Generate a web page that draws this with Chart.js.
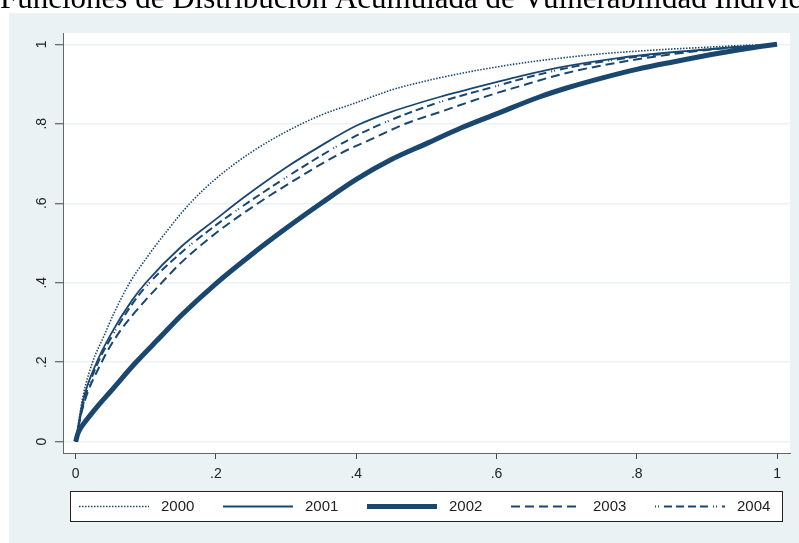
<!DOCTYPE html>
<html>
<head>
<meta charset="utf-8">
<script src="https://cdn.jsdelivr.net/npm/chart.js@4.4.1/dist/chart.umd.min.js"></script>
<style>
  body { margin: 0; background: #fff; }
  canvas { display: block; }
</style>
</head>
<body>
<canvas id="myChart" width="799" height="543"></canvas>
<script>
// data
const years = ['2000', '2001', '2002', '2003', '2004'];
const tickVals = [0, 0.2, 0.4, 0.6, 0.8, 1];

const x2000 = [0, 0.01, 0.024, 0.04, 0.055, 0.077, 0.1, 0.13, 0.163, 0.2, 0.25, 0.3, 0.35, 0.4, 0.45, 0.5, 0.55, 0.6, 0.662, 0.75, 0.82, 0.893, 0.95, 1];
const y2000 = [0, 0.11, 0.2, 0.265, 0.325, 0.4, 0.46, 0.53, 0.6, 0.662, 0.728, 0.78, 0.822, 0.853, 0.885, 0.908, 0.927, 0.943, 0.959, 0.976, 0.985, 0.992, 0.997, 1];

const x2001 = [0, 0.01, 0.03, 0.05, 0.08, 0.1, 0.15, 0.2, 0.24, 0.3, 0.35, 0.4, 0.45, 0.52, 0.6, 0.634, 0.7, 0.776, 0.85, 0.919, 1];
const y2001 = [0, 0.1, 0.2, 0.27, 0.355, 0.4, 0.49, 0.56, 0.615, 0.69, 0.745, 0.795, 0.83, 0.868, 0.905, 0.92, 0.945, 0.966, 0.98, 0.99, 1];

const x2002 = [0, 0.003, 0.01, 0.02, 0.035, 0.05, 0.085, 0.12, 0.15, 0.2, 0.25, 0.3, 0.35, 0.4, 0.45, 0.5, 0.55, 0.6, 0.662, 0.7, 0.75, 0.8, 0.85, 0.919, 0.96, 1];
const y2002 = [0, 0.02, 0.042, 0.065, 0.097, 0.127, 0.198, 0.262, 0.317, 0.398, 0.47, 0.537, 0.6, 0.66, 0.71, 0.75, 0.79, 0.825, 0.868, 0.89, 0.915, 0.937, 0.955, 0.978, 0.99, 1];

const x2003 = [0, 0.01, 0.037, 0.06, 0.099, 0.12, 0.15, 0.2, 0.26, 0.3, 0.377, 0.42, 0.47, 0.52, 0.58, 0.634, 0.7, 0.776, 0.85, 0.919, 1];
const y2003 = [0, 0.085, 0.2, 0.27, 0.355, 0.395, 0.45, 0.525, 0.6, 0.645, 0.725, 0.76, 0.8, 0.83, 0.866, 0.895, 0.928, 0.955, 0.975, 0.989, 1];

const x2004 = [0, 0.01, 0.032, 0.05, 0.08, 0.1, 0.15, 0.2, 0.24, 0.3, 0.35, 0.4, 0.45, 0.52, 0.6, 0.634, 0.7, 0.776, 0.85, 0.919, 1];
const y2004 = [0, 0.09, 0.2, 0.26, 0.345, 0.39, 0.475, 0.545, 0.595, 0.665, 0.72, 0.77, 0.81, 0.855, 0.895, 0.912, 0.94, 0.963, 0.978, 0.99, 1];

const navy = '#1a476f';
const bgBlue = '#eaf2f3';
const titleText = 'Funciones de Distribución Acumulada de Vulnerabilidad Individual';

function pts(xs, ys) {
    return xs.map((x, i) => ({x: x, y: ys[i]}));
}

function fmtTick(v) {
    if (v === 0) return '0';
    if (v === 1) return '1';
    return v.toFixed(1).replace(/^0/, '');
}

// background, title and the plot region
const background = {
    id: 'background',
    beforeDraw(chart) {
        const c = chart.ctx;
        const a = chart.chartArea;
        c.save();
        c.fillStyle = '#ffffff';
        c.fillRect(0, 0, chart.width, chart.height);
        c.fillStyle = bgBlue;
        c.fillRect(9, 13, chart.width - 9, chart.height - 13);
        c.fillStyle = '#ffffff';
        c.fillRect(a.left, a.top, a.right - a.left, a.bottom - a.top);
        c.fillStyle = '#000';
        c.font = '31px "Liberation Serif", "Times New Roman", serif';
        c.textBaseline = 'alphabetic';
        c.textAlign = 'left';
        c.fillText(titleText, 0, 8);
        c.restore();
    }
};

// boxed legend under the x axis
const boxLegend = {
    id: 'boxLegend',
    afterDraw(chart) {
        const c = chart.ctx;
        c.save();
        c.fillStyle = '#ffffff';
        c.fillRect(70, 491, 713, 30);
        c.strokeStyle = '#222';
        c.lineWidth = 1;
        c.strokeRect(70.5, 491.5, 712, 30);
        c.font = '15px "Liberation Sans", Arial, sans-serif';
        c.textBaseline = 'middle';
        c.fillStyle = '#222';
        chart.data.datasets.forEach((ds, i) => {
            const x0 = 79 + i * 144;
            const y0 = 506.5;
            c.strokeStyle = ds.borderColor;
            c.lineWidth = ds.borderWidth;
            c.setLineDash(ds.borderDash || []);
            c.beginPath();
            c.moveTo(x0, y0);
            c.lineTo(x0 + 70, y0);
            c.stroke();
            c.setLineDash([]);
            c.fillText(ds.label, x0 + 82, y0);
        });
        c.restore();
    }
};

const series = [
    {label: years[0], data: pts(x2000, y2000), borderWidth: 1.6, borderDash: [1.5, 1.5]},
    {label: years[1], data: pts(x2001, y2001), borderWidth: 1.8, borderDash: []},
    {label: years[2], data: pts(x2002, y2002), borderWidth: 5, borderDash: []},
    {label: years[3], data: pts(x2003, y2003), borderWidth: 2, borderDash: [9, 5]},
    {label: years[4], data: pts(x2004, y2004), borderWidth: 2, borderDash: [1, 2, 1, 5, 8, 4, 8, 4, 8, 4, 8, 5]}
];

let ctx = document.getElementById('myChart').getContext('2d');
let chart1 = new Chart(ctx, {
    type: 'line',
    data: {
        datasets: series.map(s => Object.assign({
            borderColor: navy,
            backgroundColor: navy,
            pointRadius: 0,
            fill: false,
            cubicInterpolationMode: 'monotone'
        }, s))
    },
    options: {
        responsive: false,
        animation: false,
        layout: {
            padding: {left: 0, right: 9, top: 33, bottom: 60}
        },
        plugins: {
            legend: {display: false},
            title: {display: false},
            tooltip: {enabled: false}
        },
        scales: {
            x: {
                type: 'linear',
                min: -0.0181,
                max: 1.0185,
                afterBuildTicks: s => { s.ticks = tickVals.map(v => ({value: v})); },
                afterFit: s => { s.height = 30; },
                grid: {drawOnChartArea: false, tickLength: 6, tickColor: '#444', tickWidth: 1},
                border: {color: '#666', width: 1},
                ticks: {
                    callback: fmtTick,
                    maxRotation: 0,
                    autoSkip: false,
                    padding: 7,
                    color: '#222',
                    font: {family: '"Liberation Sans", Arial, sans-serif', size: 14}
                }
            },
            y: {
                type: 'linear',
                min: -0.02843,
                max: 1.02843,
                afterBuildTicks: s => { s.ticks = tickVals.map(v => ({value: v})); },
                afterFit: s => { s.width = 63; },
                grid: {color: bgBlue, lineWidth: 1.5, tickLength: 8, tickColor: '#444', tickWidth: 1},
                border: {color: '#666', width: 1},
                ticks: {
                    callback: fmtTick,
                    minRotation: 90,
                    maxRotation: 90,
                    crossAlign: 'center',
                    autoSkip: false,
                    padding: 7,
                    color: '#222',
                    font: {family: '"Liberation Sans", Arial, sans-serif', size: 14}
                }
            }
        }
    },
    plugins: [background, boxLegend]
});
</script>
</body>
</html>
